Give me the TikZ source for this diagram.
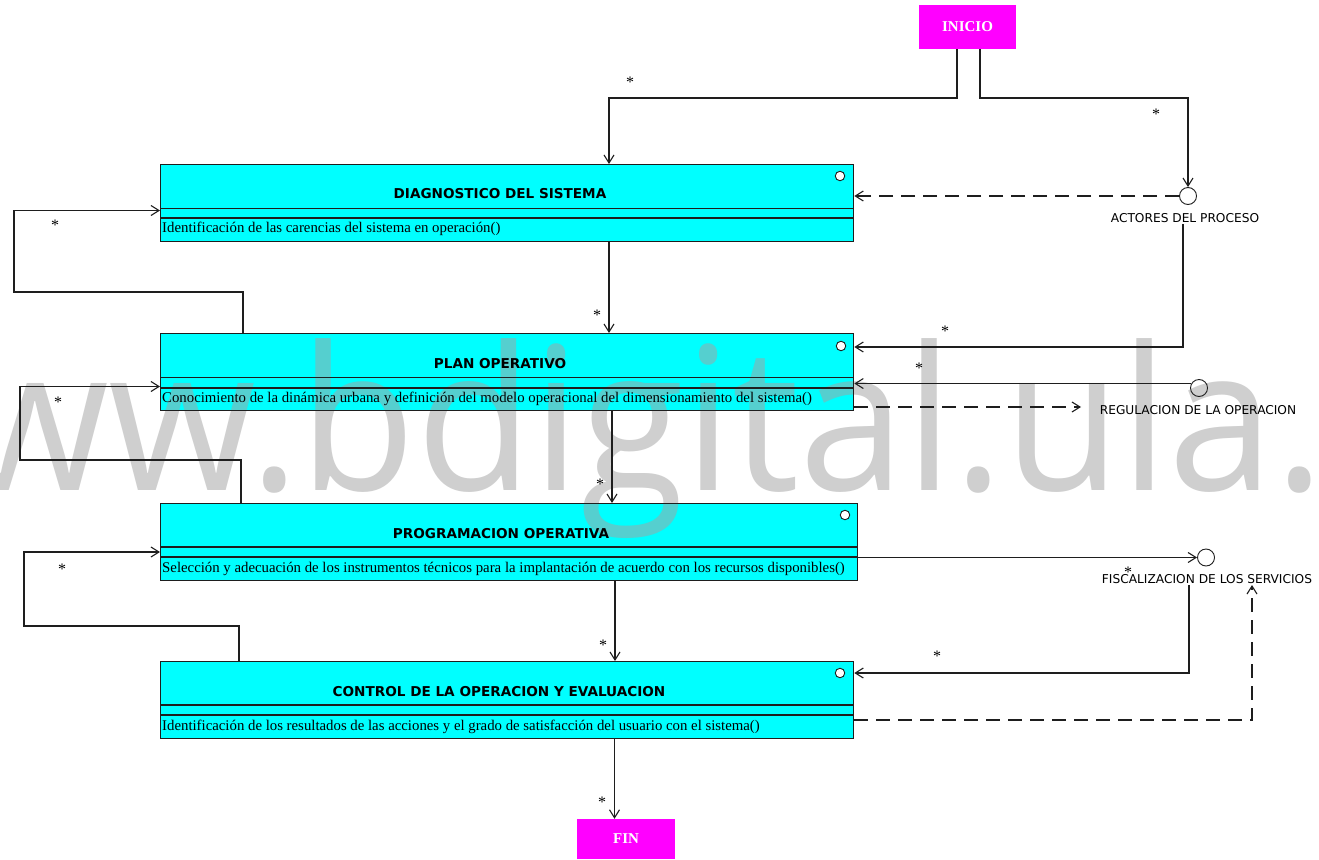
\documentclass[tikz,border=0pt]{standalone}
\usepackage{fontspec}
\setmainfont{Liberation Serif}
\newfontfamily\djsans{DejaVu Sans}
\newfontfamily\wmfont{Open Sans}
\usetikzlibrary{arrows.meta}
\definecolor{boxcyan}{HTML}{00FFFF}
\definecolor{termmag}{HTML}{FF00FF}
\definecolor{ink}{HTML}{1E1E1E}
\pgfdeclarelayer{fills}
\pgfdeclarelayer{mark}
\pgfsetlayers{fills,mark,main}
\begin{document}
\begin{tikzpicture}[x=1pt,y=-1pt,
  cls/.style={draw=ink, line width=1.3pt, rectangle, inner sep=0pt, minimum height=77pt},
  sepline/.style={draw=ink, line width=1.1pt},
  ttl/.style={font=\djsans\bfseries\fontsize{13.6}{16}\selectfont, inner sep=0pt},
  meth/.style={font=\fontsize{14.8}{17}\selectfont, inner sep=0pt, anchor=west},
  knob/.style={circle, draw=ink, fill=white, line width=0.9pt, minimum size=9.5pt, inner sep=0pt},
  iface/.style={circle, draw=ink, line width=0.9pt, minimum size=17pt, inner sep=0pt},
  ifl/.style={font=\djsans\fontsize{12.2}{14}\selectfont, inner sep=1pt},
  term/.style={fill=termmag, inner sep=0pt, text=white, font=\bfseries\fontsize{15}{17}\selectfont},
  conn/.style={draw=ink, line width=1.1pt},
  arr/.style={-{Straight Barb[length=8pt,width=10pt]}},
  dashc/.style={conn, dash pattern=on 14pt off 8pt},
  star/.style={font=\fontsize{16}{18}\selectfont, inner sep=0pt},
]
\useasboundingbox (0,0) rectangle (1319,859);

% start and end terminals
\node[term, minimum width=97pt, minimum height=44pt] (ini) at (967.5,27) {INICIO};
\node[term, minimum width=98pt, minimum height=40pt] (fin) at (626,839) {FIN};

% classes
\node[cls, minimum width=693pt, anchor=north west] (diag) at (160,164) {};
\node[cls, minimum width=693pt, anchor=north west] (plan) at (160,333) {};
\node[cls, minimum width=697pt, anchor=north west] (prog) at (160,503) {};
\node[cls, minimum width=693pt, anchor=north west] (ctrl) at (160,661) {};

\begin{pgfonlayer}{fills}
  \fill[white] (0,0) rectangle (1319,859);
  \foreach \c in {diag,plan,prog,ctrl}
    \fill[boxcyan] (\c.north west) rectangle (\c.south east);
\end{pgfonlayer}

\begin{pgfonlayer}{mark}
  \node[anchor=base west, inner sep=0pt, text=black!36, text opacity=0.52,
        font=\wmfont\fontsize{200}{200}\selectfont] (wm) at (-187,490)
        {\scalebox{0.95}[1]{www.bdigital.ula.ve}};
\end{pgfonlayer}

% compartments
\draw[sepline] (160,208.5) -- (853,208.5);
\draw[sepline] (160,218) -- (853,218);
\draw[sepline] (160,377.5) -- (853,377.5);
\draw[sepline] (160,388) -- (853,388);
\draw[sepline] (160,547) -- (857,547);
\draw[sepline] (160,557) -- (857,557);
\draw[sepline] (160,705) -- (853,705);
\draw[sepline] (160,715) -- (853,715);

\node[ttl] (diagT) at (500,194) {DIAGNOSTICO DEL SISTEMA};
\node[ttl] (planT) at (500,364) {PLAN OPERATIVO};
\node[ttl] (progT) at (501,534) {PROGRAMACION OPERATIVA};
\node[ttl] (ctrlT) at (499,692) {CONTROL DE LA OPERACION Y EVALUACION};

\node[meth] (diagM) at (162,229) {Identificación de las carencias del sistema en operación()};
\node[meth] (planM) at (162,399) {Conocimiento de la dinámica urbana y definición del modelo operacional del dimensionamiento del sistema()};
\node[meth] (progM) at (162,569) {Selección y adecuación de los instrumentos técnicos para la implantación de acuerdo con los recursos disponibles()};
\node[meth] (ctrlM) at (162,727) {Identificación de los resultados de las acciones y el grado de satisfacción del usuario con el sistema()};

\node[knob] (diagK) at (840,176) {};
\node[knob] (planK) at (841,346) {};
\node[knob] (progK) at (845,515) {};
\node[knob] (ctrlK) at (840,673) {};

% interfaces
\node[iface] (act) at (1188,196) {};
\node[ifl] (actL) at (1185,218) {ACTORES DEL PROCESO};
\node[iface] (reg) at (1199,388) {};
\node[ifl] (regL) at (1198,410) {REGULACION DE LA OPERACION};
\node[iface] (fis) at (1206,557.5) {};
\node[ifl] (fisL) at (1207,579) {FISCALIZACION DE LOS SERVICIOS};

% routing points
\coordinate (j1) at (609,98);
\coordinate (j2) at (1188,98);
\coordinate (a3) at (1183,347);
\coordinate (xdp) at (609,0);
\coordinate (xpp) at (612,0);
\coordinate (xpc) at (615,0);
\coordinate (xcf) at (614.5,0);
\coordinate (f1) at (243,292);
\coordinate (f1b) at (14,210.5);
\coordinate (f2) at (241,460);
\coordinate (f2b) at (20,386.5);
\coordinate (f3) at (239,626);
\coordinate (f3b) at (24,552);
\coordinate (r2) at (1081,407);
\coordinate (c3) at (1189,673);
\coordinate (c4) at (1252,720);
\coordinate (c5) at (1252,585);

% main flow
\draw[conn,arr] ([xshift=-10.5pt]ini.south) |- (j1) -- (j1 |- diag.north);
\draw[conn,arr] ([xshift=12.5pt]ini.south) |- (j2) -- (act.north);
\draw[conn,arr] (xdp |- diag.south) -- (xdp |- plan.north);
\draw[conn,arr] (xpp |- plan.south) -- (xpp |- prog.north);
\draw[conn,arr] (xpc |- prog.south) -- (xpc |- ctrl.north);
\draw[conn,arr] (xcf |- ctrl.south) -- (xcf |- fin.north);

% feedback loops
\draw[conn,arr] (f1 |- plan.north) -- (f1) -- (f1 -| f1b) -- (f1b) -- (f1b -| diag.west);
\draw[conn,arr] (f2 |- prog.north) -- (f2) -- (f2 -| f2b) -- (f2b) -- (f2b -| plan.west);
\draw[conn,arr] (f3 |- ctrl.north) -- (f3) -- (f3 -| f3b) -- (f3b) -- (f3b -| prog.west);

% interface links
\draw[dashc,arr] (act.west) -- (act.west -| diag.east);
\draw[conn,arr] (a3 |- actL.south) -- (a3) -- (a3 -| plan.east);
\draw[conn,arr] (reg.150) -- (reg.150 -| plan.east);
\draw[dashc,arr] (r2 -| plan.east) -- (r2);
\draw[conn,arr] (fis.west -| prog.east) -- (fis.west);
\draw[conn,arr] (c3 |- fisL.south) -- (c3) -- (c3 -| ctrl.east);
\draw[dashc,arr] (c4 -| ctrl.east) -- (c4) -- (c5);

% multiplicities
\node[star] (s1) at (630,82) {*};
\node[star] (s2) at (1156,114) {*};
\node[star] (s3) at (55,225) {*};
\node[star] (s4) at (597,315) {*};
\node[star] (s5) at (945,331) {*};
\node[star] (s6) at (919,368) {*};
\node[star] (s7) at (58,402) {*};
\node[star] (s8) at (600,484) {*};
\node[star] (s9) at (1128,572) {*};
\node[star] (s10) at (62,569) {*};
\node[star] (s11) at (603,645) {*};
\node[star] (s12) at (937,656) {*};
\node[star] (s13) at (602,802) {*};
\end{tikzpicture}
\end{document}
